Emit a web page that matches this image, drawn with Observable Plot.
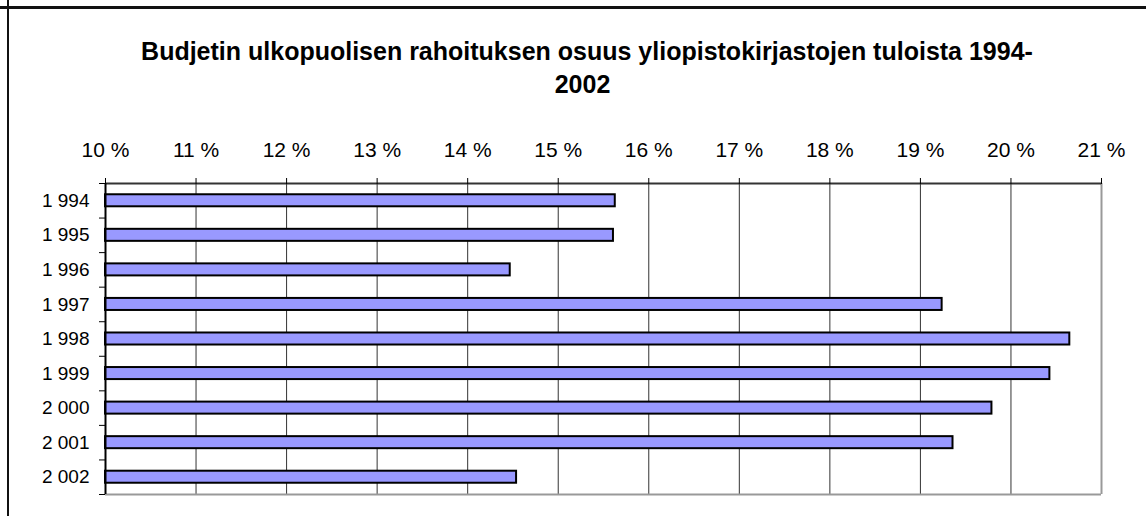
<!DOCTYPE html>
<html>
<head>
<meta charset="utf-8">
<script src="https://cdn.jsdelivr.net/npm/d3@7"></script>
<script src="https://cdn.jsdelivr.net/npm/@observablehq/plot@0.6"></script>
<style>
  html, body { margin: 0; padding: 0; background: #fff; }
  #wrap { position: relative; width: 1146px; height: 516px; overflow: hidden; font-family: Arial, "Liberation Sans", sans-serif; }
  #topline { position: absolute; left: 0; top: 6px; width: 1146px; height: 3px; background: #111; }
  #leftline { position: absolute; left: 7px; top: 0; width: 2px; height: 516px; background: #111; }
  .title { position: absolute; font-weight: bold; font-size: 25px; line-height: 25px; color: #000; white-space: nowrap; }
  #t1 { left: 0; top: 39px; width: 1174px; text-align: center; }
  #t2 { left: 0; top: 72px; width: 1165px; text-align: center; }
  #chart { position: absolute; left: 0; top: 0; }
</style>
</head>
<body>
<div id="wrap">
  <div id="chart"></div>
  <div id="topline"></div>
  <div id="leftline"></div>
  <div class="title" id="t1">Budjetin ulkopuolisen rahoituksen osuus yliopistokirjastojen tuloista 1994-</div>
  <div class="title" id="t2">2002</div>
</div>
<script>
const years = ["1 994", "1 995", "1 996", "1 997", "1 998", "1 999", "2 000", "2 001", "2 002"];
const shares = [15.63, 15.61, 14.47, 19.24, 20.65, 20.43, 19.79, 19.36, 14.54];
const xTicks = [10, 11, 12, 13, 14, 15, 16, 17, 18, 19, 20, 21];

const data = years.map((year, i) => ({year, i, value: shares[i]}));
const rowIdx = years.map((_, i) => i);
const boundaries = years.map((_, i) => i - 0.5).concat([years.length - 0.5]);

const chart = Plot.plot({
  width: 1146,
  height: 516,
  marginLeft: 105,
  marginRight: 45,
  marginTop: 183,
  marginBottom: 22,
  style: {fontFamily: "Arial, 'Liberation Sans', sans-serif", background: "transparent", color: "#000"},
  x: {domain: [10, 21], label: null},
  y: {domain: [-0.5, years.length - 0.5], reverse: true, label: null},
  marks: [
    Plot.gridX(xTicks.slice(1, -1), {stroke: "#333", strokeOpacity: 1, strokeWidth: 1}),
    Plot.rectX(data, {
      x1: () => 10,
      x2: "value",
      y1: d => d.i - 0.174,
      y2: d => d.i + 0.174,
      fill: "#9999ff",
      stroke: "#000",
      strokeWidth: 2
    }),
    Plot.ruleX([21], {stroke: "#999", strokeWidth: 2}),
    Plot.ruleY([years.length - 0.5], {stroke: "#999", strokeWidth: 2}),
    Plot.ruleY([-0.5], {stroke: "#333", strokeWidth: 2}),
    Plot.ruleX([10], {stroke: "#000", strokeWidth: 2}),
    Plot.axisX({
      anchor: "top",
      ticks: xTicks,
      tickSize: 6,
      tickPadding: 21,
      tickFormat: d => `${d} %`,
      fontSize: 21,
      stroke: "#000",
      label: null
    }),
    Plot.axisY({
      anchor: "left",
      ticks: rowIdx,
      tickSize: 0,
      tickPadding: 16,
      tickFormat: i => years[i],
      fontSize: 19,
      label: null
    }),
    Plot.axisY({
      anchor: "left",
      ticks: boundaries,
      tickSize: 6,
      tickFormat: () => "",
      label: null,
      stroke: "#000"
    })
  ]
});
document.getElementById("chart").appendChild(chart);
</script>
</body>
</html>
